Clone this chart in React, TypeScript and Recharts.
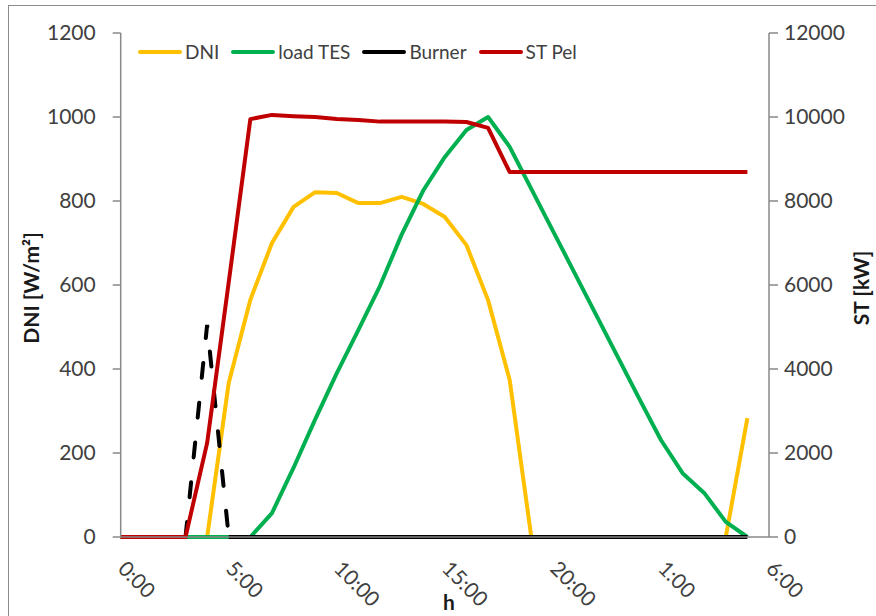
import React from 'react'
import { LineChart, Line, XAxis, YAxis } from 'recharts'

// hours since midnight of day 1 (0:00 .. 5:00 next day)
const hours = [0, 1, 2, 3, 4, 5, 6, 7, 8, 9, 10, 11, 12, 13, 14, 15, 16, 17, 18, 19, 20, 21, 22, 23, 24, 25, 26, 27, 28, 29]

// DNI [W/m²] - left axis
const dni = [0, 0, 0, 0, 0, 367, 565, 700, 786, 821, 819, 795, 795, 810, 793, 762, 695, 564, 374, 0, 0, 0, 0, 0, 0, 0, 0, 0, 0, 283]

// right axis, kW
const loadTes = [0, 0, 0, 0, 0, 0, 0, 570, 1650, 2800, 3900, 4930, 5980, 7200, 8250, 9050, 9690, 10000, 9290, 8290, 7290, 6290, 5290, 4290, 3290, 2310, 1520, 1050, 360, 0]
const burner = [0, 0, 0, 0, 5050, 0, 0, 0, 0, 0, 0, 0, 0, 0, 0, 0, 0, 0, 0, 0, 0, 0, 0, 0, 0, 0, 0, 0, 0, 0]
const stPel = [0, 0, 0, 0, 2240, 6070, 9950, 10050, 10020, 10000, 9950, 9930, 9890, 9890, 9890, 9890, 9880, 9740, 8690, 8690, 8690, 8690, 8690, 8690, 8690, 8690, 8690, 8690, 8690, 8690]

const xTicks = [0, 5, 10, 15, 20, 25, 30]
const dniTicks = [0, 200, 400, 600, 800, 1000, 1200]
const stTicks = [0, 2000, 4000, 6000, 8000, 10000, 12000]

const seriesNames = ['DNI', 'load TES', 'Burner', 'ST Pel']
const seriesColors = ['#FFC000', '#00B050', '#000000', '#C00000']

const FONT = 'Lato, "Open Sans", sans-serif'
const TEXT = '#404040'
const AXIS = '#898989'

// the burner run-up is drawn dashed, the rest of the series solid
const isBurnerOn = (i: number) =>
  burner[i] > 0 || (i > 0 && burner[i - 1] > 0) || (i < burner.length - 1 && burner[i + 1] > 0)

const data = hours.map((h, i) => ({
  h,
  dni: dni[i],
  loadTes: loadTes[i],
  burnerSolid: burner[i] > 0 ? null : burner[i],
  burnerDash: isBurnerOn(i) ? burner[i] : null,
  stPel: stPel[i],
}))

const HourTick = (props: any) => {
  const { x, y, payload } = props
  const tx = x - 4
  const ty = y + 33
  return (
    <text
      x={tx}
      y={ty}
      transform={`rotate(45 ${tx} ${ty})`}
      textAnchor="start"
      fill={TEXT}
      fontSize={21}
      fontFamily={FONT}
    >
      {`${payload.value % 24}:00`}
    </text>
  )
}

const tickStyle = { fill: TEXT, fontSize: 21, fontFamily: FONT }

export default function App() {
  return (
    <div
      style={{
        position: 'absolute',
        left: 0,
        top: 0,
        width: 876,
        height: 616,
        background: '#fff',
        overflow: 'hidden',
      }}
    >
      <div
        style={{
          position: 'absolute',
          left: 8,
          top: 5,
          width: 900,
          height: 700,
          borderLeft: '1px solid #8c8c8c',
          borderTop: '1px solid #8c8c8c',
        }}
      />
      <div style={{ position: 'absolute', left: 0, top: 0 }}>
        <LineChart width={876} height={616} data={data} margin={{ top: 33, right: 0, left: 0, bottom: 0 }}>
          <XAxis
            dataKey="h"
            type="number"
            domain={[0, 30]}
            ticks={xTicks}
            height={79}
            tickLine={false}
            tickSize={0}
            tickMargin={0}
            axisLine={{ stroke: AXIS, strokeWidth: 1.5 }}
            tick={<HourTick />}
            interval={0}
          />
          <YAxis
            yAxisId="left"
            orientation="left"
            width={120.7}
            domain={[0, 1200]}
            ticks={dniTicks}
            interval={0}
            tickSize={8}
            tickMargin={17}
            tick={tickStyle}
            tickLine={{ stroke: AXIS, strokeWidth: 1.5 }}
            axisLine={{ stroke: AXIS, strokeWidth: 1.5 }}
          />
          <YAxis
            yAxisId="right"
            orientation="right"
            width={107}
            domain={[0, 12000]}
            ticks={stTicks}
            interval={0}
            tickSize={9}
            tickMargin={6}
            tick={tickStyle}
            tickLine={{ stroke: AXIS, strokeWidth: 1.5 }}
            axisLine={{ stroke: AXIS, strokeWidth: 1.5 }}
          />
          <Line yAxisId="left" type="linear" dataKey="dni" name="DNI" stroke={seriesColors[0]} strokeWidth={4} dot={false} isAnimationActive={false} strokeLinejoin="round" />
          <Line yAxisId="right" type="linear" dataKey="loadTes" name="load TES" stroke={seriesColors[1]} strokeWidth={4} dot={false} isAnimationActive={false} strokeLinejoin="round" />
          <Line yAxisId="right" type="linear" dataKey="burnerSolid" name="Burner" stroke={seriesColors[2]} strokeWidth={4} dot={false} isAnimationActive={false} />
          <Line yAxisId="right" type="linear" dataKey="burnerDash" name="Burner" stroke={seriesColors[2]} strokeWidth={4} strokeDasharray="15 25" strokeLinecap="round" dot={false} isAnimationActive={false} legendType="none" />
          <Line yAxisId="right" type="linear" dataKey="stPel" name="ST Pel" stroke={seriesColors[3]} strokeWidth={4} dot={false} isAnimationActive={false} strokeLinejoin="round" />
        </LineChart>
      </div>

      {/* legend */}
      <div
        style={{
          position: 'absolute',
          left: 138,
          top: 40,
          display: 'flex',
          alignItems: 'center',
          fontFamily: FONT,
          fontSize: 19,
          lineHeight: '24px',
          color: TEXT,
        }}
      >
        {seriesNames.map((name, i) => (
          <div key={name} style={{ display: 'flex', alignItems: 'center', marginRight: 12 }}>
            <span
              style={{
                display: 'inline-block',
                width: 44,
                height: 4,
                borderRadius: 2,
                background: seriesColors[i],
                marginRight: 3,
              }}
            />
            <span>{name}</span>
          </div>
        ))}
      </div>

      {/* axis titles */}
      <svg width={876} height={616} style={{ position: 'absolute', left: 0, top: 0, pointerEvents: 'none' }}>
        <text x={39} y={288} transform="rotate(-90 39 288)" textAnchor="middle" fontFamily={FONT} fontWeight="bold" fontSize={21} fill="#1a1a1a">
          DNI [W/m²]
        </text>
        <text x={869} y={288} transform="rotate(-90 869 288)" textAnchor="middle" fontFamily={FONT} fontWeight="bold" fontSize={21} fill="#1a1a1a">
          ST [kW]
        </text>
        <text x={449} y={610} textAnchor="middle" fontFamily={FONT} fontWeight="bold" fontSize={21} fill="#1a1a1a">
          h
        </text>
      </svg>
    </div>
  )
}
